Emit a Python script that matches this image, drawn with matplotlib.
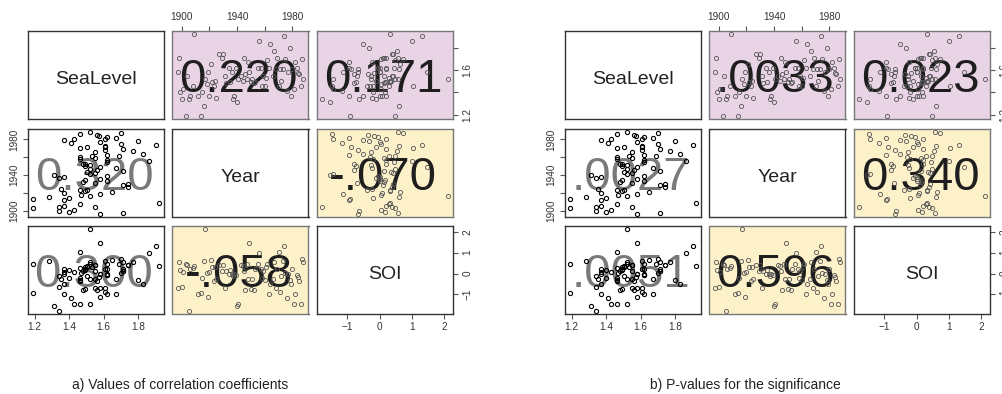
import matplotlib
matplotlib.use("Agg")
import matplotlib.pyplot as plt

# ---------------- data ----------------
year = [1897, 1898, 1899, 1900, 1901, 1903, 1904, 1905, 1906, 1908, 1909, 1912,
        1914, 1915, 1916, 1917, 1918, 1919, 1920, 1921, 1922, 1923, 1924, 1925,
        1927, 1929, 1930, 1931, 1932, 1934, 1935, 1936, 1937, 1938, 1939, 1940,
        1941, 1943, 1944, 1945, 1946, 1947, 1948, 1949, 1950, 1951, 1952, 1953,
        1955, 1956, 1957, 1958, 1959, 1960, 1961, 1962, 1963, 1964, 1966, 1967,
        1968, 1969, 1970, 1971, 1972, 1973, 1974, 1975, 1976, 1977, 1978, 1979,
        1980, 1981, 1982, 1983, 1984, 1985, 1986, 1987, 1988]
sea_level = [1.58, 1.71, 1.40, 1.34, 1.43, 1.19, 1.55, 1.34, 1.37, 1.46, 1.92, 1.37,
             1.19, 1.40, 1.28, 1.52, 1.47, 1.58, 1.37, 1.65, 1.49, 1.46, 1.50, 1.35,
             1.74, 1.71, 1.74, 1.55, 1.48, 1.62, 1.49, 1.58, 1.34, 1.37, 1.62, 1.31,
             1.52, 1.55, 1.50, 1.71, 1.56, 1.52, 1.67, 1.58, 1.49, 1.52, 1.48, 1.49,
             1.62, 1.86, 1.62, 1.46, 1.55, 1.46, 1.53, 1.69, 1.62, 1.83, 1.55, 1.77,
             1.61, 1.71, 1.46, 1.61, 1.50, 1.61, 1.90, 1.70, 1.41, 1.58, 1.80, 1.37,
             1.61, 1.43, 1.67, 1.62, 1.57, 1.56, 1.46, 1.70, 1.52]
soi = [-0.67, 0.57, 0.16, -0.65, 0.06, 0.47, 0.39, -1.78, 0.20, 0.28, 0.34, -0.96,
       -0.91, -0.20, 0.61, 2.12, 0.05, -1.12, 0.08, 0.64, 0.32, -0.38, 0.32, -0.24,
       0.40, 0.10, 0.41, -0.70, 0.13, 0.00, 0.16, 0.00, -0.10, 0.00, -0.05, -1.53,
       -1.44, 0.41, 0.37, 0.13, -0.80, 0.48, -0.24, 1.48, -0.72, -0.27, -0.78, 0.21,
       0.45, 1.00, 0.20, -0.19, 0.13, -0.30, 0.29, 0.48, -0.96, -0.51, -0.27, 0.53,
       -0.67, 0.20, 1.05, -0.88, -0.10, 0.61, 1.32, 0.05, -1.15, 0.00, -0.32, -0.50,
       0.20, -1.44, -0.96, -0.06, -0.16, -0.35, -1.47, 0.72, 0.57]

var_names = ["SeaLevel", "Year", "SOI"]

corr_text = {(0, 1): "0.220", (0, 2): "0.171", (1, 0): "0.320",
             (1, 2): "-.070", (2, 0): "0.300", (2, 1): "-.058"}
pval_text = {(0, 1): ".0033", (0, 2): "0.023", (1, 0): ".0027",
             (1, 2): "0.340", (2, 0): ".0051", (2, 1): "0.596"}

captions = ["a) Values of correlation coefficients",
            "b) P-values for the significance"]

year_ticks = [1900, 1920, 1940, 1960, 1980]
year_labels = ["1900", "", "1940", "", "1980"]
sl_ticks = [1.2, 1.4, 1.6, 1.8]
sl_labels_right = ["1.2", "", "1.6", ""]
sl_labels_bottom = ["1.2", "1.4", "1.6", "1.8"]
soi_ticks = [-1, 0, 1, 2]
soi_labels = ["\u22121", "0", "1", "2"]

# ---------------- styling ----------------
FONT = ["Liberation Sans", "DejaVu Sans"]
PINK = "#e9d4e6"
YELLOW = "#fdf1ca"
bg = {(0, 1): PINK, (0, 2): PINK, (1, 2): YELLOW, (2, 1): YELLOW}
dark = {(0, 1), (0, 2), (1, 2), (2, 1)}

W, H = 1003, 394
fig = plt.figure(figsize=(W / 100, H / 100), dpi=100)
fig.patch.set_facecolor("white")

col_x = [28, 172.5, 317]
row_y = [31, 129, 226]
pw, ph = 136, 88
matrix_offset = [0, 537]

data = [sea_level, year, soi]


def lims(v):
    lo, hi = min(v), max(v)
    pad = 0.04 * (hi - lo)
    return lo - pad, hi + pad


limits = [lims(v) for v in data]

tick_kw = dict(direction="out", length=3.6, width=0.8, color="#555555",
               labelcolor="#333333", labelsize=7.2)

for m, texts in enumerate([corr_text, pval_text]):
    off = matrix_offset[m]
    for r in range(3):
        for c in range(3):
            x0 = off + col_x[c]
            y0 = row_y[r]
            ax = fig.add_axes([x0 / W, 1 - (y0 + ph) / H, pw / W, ph / H])
            ax.set_xlim(*limits[c])
            ax.set_ylim(*limits[r])
            ax.set_xticks([])
            ax.set_yticks([])
            ax.set_facecolor(bg.get((r, c), "white"))
            edge = "#777777" if (r, c) in bg else "#333333"
            for s in ax.spines.values():
                s.set_color(edge)
                s.set_linewidth(1.0)
            if r == c:
                ax.text(0.5, 0.40, var_names[r], transform=ax.transAxes,
                        ha="center", va="baseline", fontsize=14,
                        family=FONT, color="#222222")
            else:
                is_dark = (r, c) in dark
                ax.text(0.485, 0.31, texts[(r, c)], transform=ax.transAxes,
                        ha="center", va="baseline", fontsize=34,
                        family=FONT, color="#1e1e1e" if is_dark else "#7a7a7a",
                        zorder=1)
                ax.plot(data[c], data[r], linestyle="none", marker="o",
                        markersize=3.0, markerfacecolor="none",
                        markeredgewidth=0.6 if is_dark else 0.8,
                        markeredgecolor="#555555" if is_dark else "#000000",
                        zorder=2)
            # axes as in R pairs()
            if (r, c) == (0, 1):
                ax.set_xticks(year_ticks)
                ax.set_xticklabels(year_labels, family=FONT)
                ax.tick_params(axis="x", top=True, bottom=False,
                               labeltop=True, labelbottom=False, pad=3, **tick_kw)
            if (r, c) == (0, 2):
                ax.set_yticks(sl_ticks)
                ax.set_yticklabels(sl_labels_right, family=FONT, rotation=90,
                                   va="center")
                ax.tick_params(axis="y", right=True, left=False,
                               labelright=True, labelleft=False, pad=3, **tick_kw)
            if (r, c) == (1, 0):
                ax.set_yticks(year_ticks)
                ax.set_yticklabels(year_labels, family=FONT, rotation=90,
                                   va="center")
                ax.tick_params(axis="y", left=True, right=False, pad=3, **tick_kw)
            if (r, c) == (2, 0):
                ax.set_xticks(sl_ticks)
                ax.set_xticklabels(sl_labels_bottom, family=FONT)
                ax.tick_params(axis="x", pad=2, **tick_kw)
            if (r, c) == (2, 2):
                ax.set_xticks(soi_ticks)
                ax.set_xticklabels(soi_labels, family=FONT)
                ax.tick_params(axis="x", pad=2, **tick_kw)
                ax.set_yticks(soi_ticks)
                ax.set_yticklabels(soi_labels, family=FONT, rotation=90,
                                   va="center")
                ax.tick_params(axis="y", right=True, left=False,
                               labelright=True, labelleft=False, pad=3, **tick_kw)

cap_x = [180, 745]
for cx, txt in zip(cap_x, captions):
    fig.text(cx / W, 1 - 389 / H, txt, ha="center", va="baseline",
             fontsize=10, family=FONT, color="#222222")

fig.savefig("out.png", dpi=100, facecolor="white")
